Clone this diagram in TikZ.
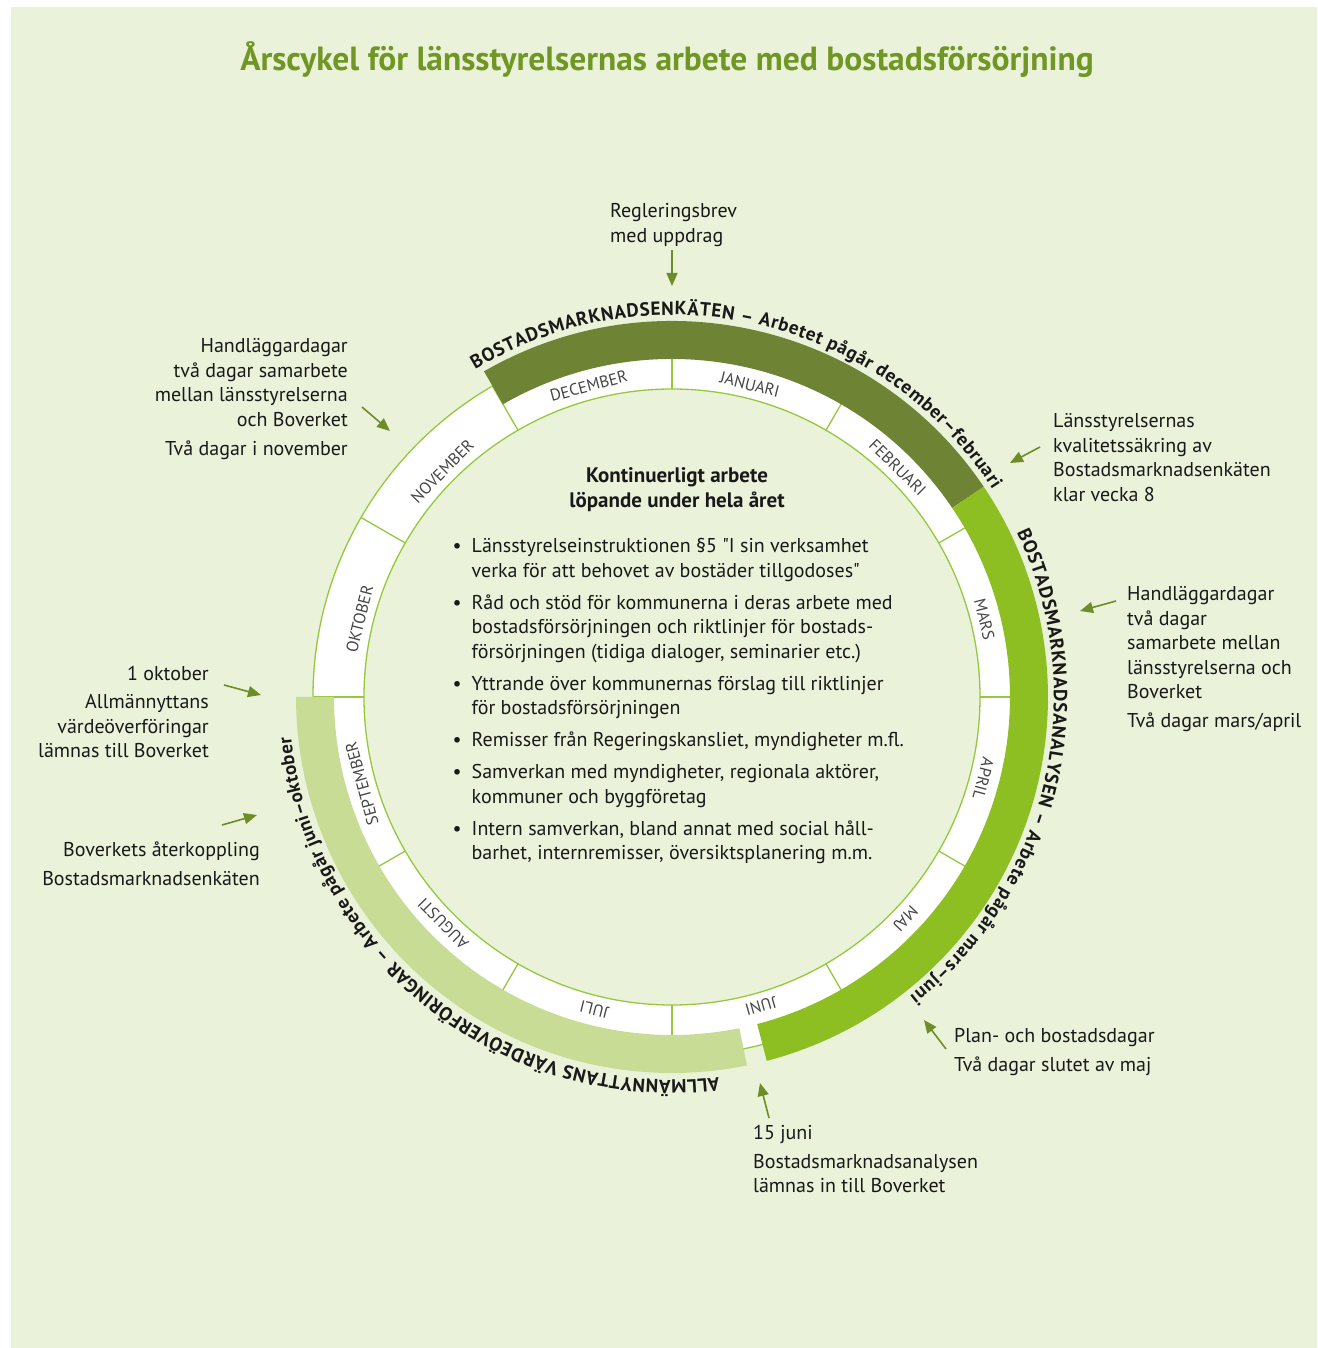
\documentclass[tikz,border=0pt]{standalone}
\usepackage{fontspec}
\setmainfont{PT Sans}[Ligatures=TeXOff]
\usetikzlibrary{decorations.text,arrows.meta}
\definecolor{bgc}{RGB}{234,242,218}
\definecolor{darkband}{RGB}{110,132,52}
\definecolor{brightband}{RGB}{141,190,34}
\definecolor{lightband}{RGB}{200,220,150}
\definecolor{titlec}{RGB}{112,150,35}
\definecolor{arrowc}{RGB}{110,140,40}
\definecolor{ringc}{RGB}{150,200,60}
\definecolor{monthc}{RGB}{70,70,70}
\definecolor{txtc}{RGB}{25,25,25}
\newcommand\blockL[1]{\vtop{\halign{##\hfil\cr#1\crcr}}}
\newcommand\blockR[1]{\vtop{\halign{\hfil##\cr#1\crcr}}}
\newcommand\blockC[1]{\vtop{\halign{\hfil##\hfil\cr#1\crcr}}}
\newcommand\blockB[1]{\vtop{\halign{\hbox to 19pt{##\hfil}&##\hfil\cr#1\crcr}}}
\newcommand\gap[1]{\noalign{\vskip#1}}
\begin{document}
\begin{tikzpicture}[x=1pt,y=1pt,
  txt/.style={inner sep=0pt, text=txtc, font=\fontsize{20}{24.5}\selectfont},
  month/.style={inner sep=0pt, text=monthc, font=\fontsize{16.5}{16.5}\selectfont},
  arr/.style={draw=arrowc, line width=1.6pt, -{Triangle[length=13pt,width=11pt]}},
  ringline/.style={draw=ringc, line width=1.3pt},
  arctext/.style={decorate, decoration={text along path, text align={fit to path}, text color=txtc}}]
\useasboundingbox (-672,-651) rectangle (645,697);
\fill[white] (-672,-651) rectangle (645,697);
\fill[bgc] (-661,-651) rectangle (645,690);

% title
\node[inner sep=0pt, text=titlec, font=\fontsize{33.5}{33.5}\selectfont\bfseries, anchor=base] (title) at (-5,626) {Årscykel för länsstyrelsernas arbete med bostadsförsörjning};

% ring
\fill[white, even odd rule] (0,0) circle[radius=359] (0,0) circle[radius=308];
\draw[ringline] (0,0) circle[radius=308];
\draw[ringline] (0,0) circle[radius=359];
\foreach \a in {0,30,...,330} \draw[ringline] (\a:308) -- (\a:359);

% bands
\fill[darkband] (120:338) arc[start angle=120,end angle=34,radius=338] -- (34:376) arc[start angle=34,end angle=120,radius=376] -- cycle;
\fill[brightband] (34:338) arc[start angle=34,end angle=-75.4,radius=338] -- (-75.4:376) arc[start angle=-75.4,end angle=34,radius=376] -- cycle;
\fill[lightband] (180:338) arc[start angle=180,end angle=281.5,radius=338] -- (281.5:376) arc[start angle=281.5,end angle=180,radius=376] -- cycle;

% months
\foreach \m/\a in {DECEMBER/105,JANUARI/76,FEBRUARI/45.5,MARS/14,APRIL/-14.7,MAJ/-43.5,JUNI/-74,JULI/256,AUGUSTI/224.7,SEPTEMBER/195.6,OKTOBER/166,NOVEMBER/135.5}
  \node[month, rotate=\a-90] (m\m) at (\a:322) {\m};

% arc texts
\path[arctext, decoration={text={|\fontsize{19}{19}\selectfont\bfseries|BOSTADSMARKNADSENKÄTEN – Arbetet pågår december–februari}}]
  (121:382) arc[start angle=121,end angle=33,radius=382];
\path[arctext, decoration={text={|\fontsize{19}{19}\selectfont\bfseries|BOSTADSMARKNADSANALYSEN – Arbete pågår mars–juni}}]
  (25.5:382) arc[start angle=25.5,end angle=-51.5,radius=382];
\path[arctext, decoration={text={|\fontsize{19}{19}\selectfont\bfseries|ALLMÄNNYTTANS VÄRDEÖVERFÖRINGAR – Arbete pågår juni–oktober}}]
  (277:383) arc[start angle=277,end angle=186,radius=383];

% centre
\node[txt, font=\fontsize{21}{24.5}\selectfont\bfseries, anchor=base] (head) at (5,214) {\blockC{Kontinuerligt arbete\cr löpande under hela året}};
\node[txt, anchor=base west] (list) at (-219.5,144) {\blockB{%
\textbullet & Länsstyrelseinstruktionen §5 "I sin verksamhet\cr
 & verka för att behovet av bostäder tillgodoses"\cr\gap{7.5pt}
\textbullet & Råd och stöd för kommunerna i deras arbete med\cr
 & bostadsförsörjningen och riktlinjer för bostads-\cr
 & försörjningen (tidiga dialoger, seminarier etc.)\cr\gap{7.5pt}
\textbullet & Yttrande över kommunernas förslag till riktlinjer\cr
 & för bostadsförsörjningen\cr\gap{7.5pt}
\textbullet & Remisser från Regeringskansliet, myndigheter m.fl.\cr\gap{7.5pt}
\textbullet & Samverkan med myndigheter, regionala aktörer,\cr
 & kommuner och byggföretag\cr\gap{7.5pt}
\textbullet & Intern samverkan, bland annat med social håll-\cr
 & barhet, internremisser, översiktsplanering m.m.}};

% outer annotations
\node[txt, anchor=base west] (reg) at (-62,479) {\blockL{Regleringsbrev\cr med uppdrag}};
\node[txt, anchor=base east] (hnw) at (-324,344) {\blockR{Handläggardagar\cr två dagar samarbete\cr mellan länsstyrelserna\cr och Boverket\cr\gap{4.5pt} Två dagar i november}};
\node[txt, anchor=base west] (kval) at (381,269) {\blockL{Länsstyrelsernas\cr kvalitetssäkring av\cr Bostadsmarknadsenkäten\cr klar vecka 8}};
\node[txt, anchor=base west] (he) at (455,96) {\blockL{Handläggardagar\cr två dagar\cr samarbete mellan\cr länsstyrelserna och\cr Boverket\cr\gap{4.5pt} Två dagar mars/april}};
\node[txt, anchor=base east] (okt) at (-463,16) {\blockR{1 oktober\cr\gap{3.5pt} Allmännyttans\cr värdeöverföringar\cr lämnas till Boverket}};
\node[txt, anchor=base east] (bov) at (-412,-159) {\blockR{Boverkets återkoppling\cr\gap{4.5pt} Bostadsmarknadsenkäten}};
\node[txt, anchor=base west] (plan) at (282,-345) {\blockL{Plan- och bostadsdagar\cr\gap{4.5pt} Två dagar slutet av maj}};
\node[txt, anchor=base west] (juni) at (81,-442) {\blockL{15 juni\cr\gap{4.5pt} Bostadsmarknadsanalysen\cr lämnas in till Boverket}};

% arrows
\coordinate (a1s) at (0,447); \coordinate (a1e) at (0,411);
\coordinate (a2s) at (-310,290); \coordinate (a2e) at (-282,266);
\coordinate (a3s) at (368,250); \coordinate (a3e) at (338,234);
\coordinate (a4s) at (444,96); \coordinate (a4e) at (408,86);
\coordinate (a5s) at (-448,12); \coordinate (a5e) at (-411,2);
\coordinate (a6s) at (-450,-128); \coordinate (a6e) at (-415,-118);
\coordinate (a7s) at (274,-352); \coordinate (a7e) at (252,-323);
\coordinate (a8s) at (97,-421); \coordinate (a8e) at (88,-386);
\foreach \i in {1,...,8} \draw[arr] (a\i s) -- (a\i e);
\end{tikzpicture}
\end{document}
